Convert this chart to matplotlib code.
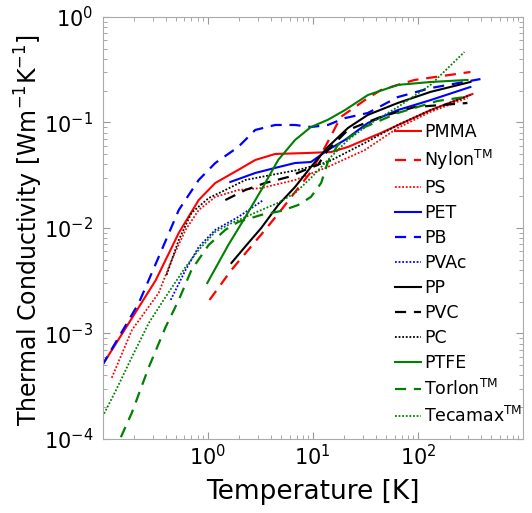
import numpy as np
import matplotlib
matplotlib.use("Agg")
from matplotlib import pyplot as plt

# temperature [K] and thermal conductivity [W/m/K]
T_pmma = [0.098, 0.32, 0.53, 0.82, 1.18, 1.95, 2.83, 4.38, 9.0, 14.9, 21.6, 44.4, 132, 330]
k_pmma = [4.9e-4, 3.2e-3, 8.97e-3, 0.0184, 0.0267, 0.0355, 0.0441, 0.0503, 0.0514, 0.0525, 0.0586, 0.0795, 0.131, 0.186]

T_nylon = [1.04, 1.68, 2.43, 3.52, 5.0, 6.78, 9.6, 13.1, 18.5, 31.3, 44.4, 93, 316]
k_nylon = [2.08e-3, 4.0e-3, 6.2e-3, 9.6e-3, 0.0148, 0.0219, 0.034, 0.0586, 0.113, 0.163, 0.203, 0.253, 0.301]

T_ps = [0.122, 0.19, 0.341, 0.453, 0.615, 0.82, 1.18, 1.95, 3.23, 6.78, 13.9, 31.3, 64.3, 132, 297]
k_ps = [3.8e-4, 1.08e-3, 2.42e-3, 4.97e-3, 9.6e-3, 0.0148, 0.0197, 0.0229, 0.0239, 0.0285, 0.0379, 0.0548, 0.0887, 0.126, 0.171]

T_pet = [1.64, 2.83, 4.38, 6.78, 9.6, 13.9, 20.2, 33.4, 64.3, 132, 316]
k_pet = [0.0273, 0.0332, 0.0371, 0.0413, 0.0422, 0.0548, 0.0683, 0.0989, 0.131, 0.163, 0.217]

T_pb = [0.098, 0.221, 0.341, 0.53, 0.82, 1.18, 1.95, 2.83, 4.38, 6.78, 9.6, 13.9, 20.2, 33.4, 64.3, 132, 394]
k_pb = [4.9e-4, 1.95e-3, 5.3e-3, 0.0148, 0.0285, 0.0413, 0.0586, 0.0849, 0.0947, 0.0947, 0.0906, 0.0947, 0.110, 0.123, 0.174, 0.212, 0.258]

T_pvac = [0.444, 0.615, 0.82, 1.18, 1.95, 3.38]
k_pvac = [2.08e-3, 4.0e-3, 6.6e-3, 9.6e-3, 0.0127, 0.0184]

T_pp = [1.68, 2.43, 3.23, 4.68, 6.78, 9.6, 13.9, 21.6, 33.4, 64.3, 132, 316]
k_pp = [4.66e-3, 7.2e-3, 0.0100, 0.0165, 0.0245, 0.0379, 0.0586, 0.0887, 0.118, 0.153, 0.195, 0.242]

T_pvc = [1.47, 2.28, 3.52, 5.82, 8.43, 11.2, 13.9, 21.6, 44.4, 93, 296]
k_pvc = [0.0184, 0.0229, 0.0267, 0.0304, 0.0355, 0.0396, 0.0548, 0.0849, 0.113, 0.140, 0.153]

T_pc = [0.406, 0.53, 0.70, 1.02, 1.47, 2.28, 4.02, 7.24, 13.9, 31.3, 64.3, 132, 316]
k_pc = [3.59e-3, 7.7e-3, 0.0139, 0.0192, 0.0229, 0.0285, 0.0318, 0.0355, 0.0422, 0.064, 0.0947, 0.131, 0.182]

T_ptfe = [0.99, 1.57, 2.28, 3.23, 4.68, 6.78, 9.6, 13.9, 20.2, 33.4, 64.3, 132, 297]
k_ptfe = [3.01e-3, 6.9e-3, 0.0127, 0.0229, 0.0441, 0.0683, 0.0906, 0.106, 0.131, 0.182, 0.227, 0.242, 0.253]

T_torlon = [0.149, 0.189, 0.275, 0.397, 0.53, 0.70, 1.02, 1.47, 1.95, 3.23, 5.0, 7.24, 9.6, 12.0, 13.9, 17.3, 31.3, 64.3, 154, 277]
k_torlon = [1.04e-4, 1.76e-4, 4.8e-4, 1.15e-3, 2.08e-3, 4.0e-3, 6.9e-3, 9.6e-3, 0.0114, 0.0133, 0.0145, 0.0165, 0.0197, 0.0267, 0.0422, 0.0612, 0.0906, 0.123, 0.16, 0.174]

T_tecamax = [0.096, 0.134, 0.19, 0.275, 0.397, 0.615, 0.82, 1.18, 1.68, 3.23, 4.68, 6.78, 9.6, 13.9, 21.6, 33.4, 64.3, 132, 277]
k_tecamax = [1.51e-4, 2.9e-4, 6.0e-4, 1.26e-3, 2.22e-3, 4.27e-3, 6.2e-3, 9.2e-3, 0.0111, 0.0148, 0.0173, 0.0215, 0.0298, 0.0441, 0.0683, 0.0947, 0.140, 0.227, 0.466]

red = '#ff0000'
blue = '#0000ff'
green = '#008000'

series = [
    (T_pmma, k_pmma, red, '-', 'PMMA'),
    (T_nylon, k_nylon, red, '--', r'Nylon$^{\mathrm{TM}}$'),
    (T_ps, k_ps, red, ':', 'PS'),
    (T_pet, k_pet, blue, '-', 'PET'),
    (T_pb, k_pb, blue, '--', 'PB'),
    (T_pvac, k_pvac, blue, ':', 'PVAc'),
    (T_pp, k_pp, 'k', '-', 'PP'),
    (T_pvc, k_pvc, 'k', '--', 'PVC'),
    (T_pc, k_pc, 'k', ':', 'PC'),
    (T_ptfe, k_ptfe, green, '-', 'PTFE'),
    (T_torlon, k_torlon, green, '--', r'Torlon$^{\mathrm{TM}}$'),
    (T_tecamax, k_tecamax, green, ':', r'Tecamax$^{\mathrm{TM}}$'),
]

fig = plt.figure(figsize=(5.32, 5.13), dpi=100)
ax = fig.add_axes([0.193, 0.1443, 0.790, 0.8226])

for T, k, c, ls, lab in series:
    if ls == '--':
        ax.plot(T, k, color=c, lw=1.6, dashes=(5, 3.5), label=lab)
    elif ls == ':':
        ax.plot(T, k, color=c, lw=1.3, dashes=(1, 1), label=lab)
    else:
        ax.plot(T, k, color=c, lw=1.5, label=lab)

ax.set_xscale('log')
ax.set_yscale('log')
ax.set_xlim(0.1, 1000)
ax.set_ylim(1e-4, 1)
ax.set_xticks([1, 10, 100])
ax.set_xticklabels([r'$10^{0}$', r'$10^{1}$', r'$10^{2}$'])
ax.set_yticks([1e-4, 1e-3, 1e-2, 1e-1, 1])
ax.set_yticklabels([r'$10^{-4}$', r'$10^{-3}$', r'$10^{-2}$', r'$10^{-1}$', r'$10^{0}$'])
ax.tick_params(which='both', direction='in', top=True, right=True, color='#999999', labelsize=15)
ax.tick_params(axis='y', pad=7)
ax.tick_params(which='major', length=5)
ax.tick_params(which='minor', length=3)
for s in ax.spines.values():
    s.set_color('#aaaaaa')

ax.set_xlabel('Temperature [K]', fontsize=19)
ax.set_ylabel(r'Thermal Conductivity [Wm$^{-1}$K$^{-1}$]', fontsize=17)
ax.xaxis.set_label_coords(0.5, -0.095)
ax.yaxis.set_label_coords(-0.137, 0.495)

ax.legend(loc='upper left', bbox_to_anchor=(0.68, 0.765), frameon=False, fontsize=12.5,
          handlelength=1.5, handletextpad=0.15, labelspacing=0.4, borderaxespad=0)

fig.savefig('out.png', dpi=100)
